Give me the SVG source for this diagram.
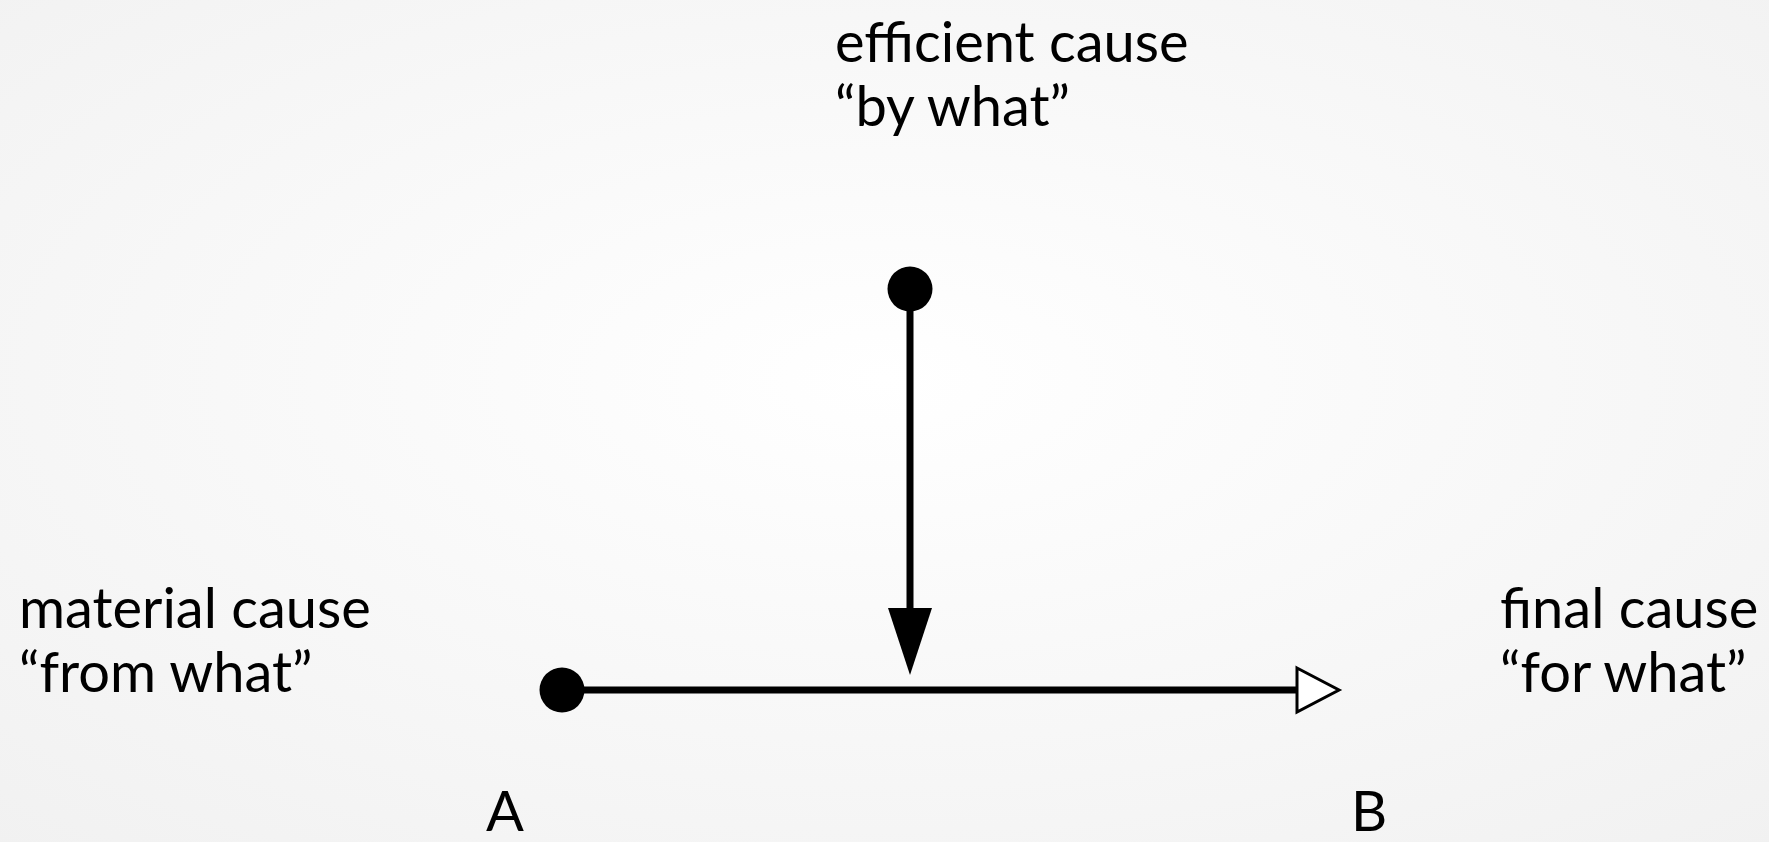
<svg xmlns="http://www.w3.org/2000/svg" width="1769" height="842" viewBox="0 0 1769 842">
  <defs>
    <radialGradient id="bg" cx="0.5" cy="0.45" r="0.75">
      <stop offset="0" stop-color="#ffffff"/>
      <stop offset="1" stop-color="#f1f1f1"/>
    </radialGradient>
    <marker id="filledArrow" markerUnits="userSpaceOnUse" markerWidth="70" markerHeight="46" refX="0" refY="22" orient="auto" overflow="visible">
      <path d="M0,0 L67,22 L0,44 Z" fill="#000"/>
    </marker>
    <marker id="openArrow" markerUnits="userSpaceOnUse" markerWidth="46" markerHeight="48" refX="0" refY="22" orient="auto" overflow="visible">
      <path d="M0,0 L42,22 L0,44 Z" fill="#fff" stroke="#000" stroke-width="3"/>
    </marker>
    <style>
      .lbl { font-family: "Lato", "Liberation Sans", sans-serif; font-size: 56px; fill: #000; }
      .conn { stroke: #000; stroke-width: 7; fill: none; }
      .dot { fill: #000; }
    </style>
  </defs>
  <rect width="1769" height="842" fill="url(#bg)"/>
  <g id="connectors">
    <line class="conn" x1="910" y1="289" x2="910" y2="608" marker-end="url(#filledArrow)"/>
    <line class="conn" x1="562" y1="690" x2="1297" y2="690" marker-end="url(#openArrow)"/>
  </g>
  <g id="efficient">
    <text class="lbl" x="835" y="62">efficient cause</text>
    <text class="lbl" x="835" y="126">“by what”</text>
    <circle class="dot" cx="910" cy="289" r="22.5"/>
  </g>
  <g id="material">
    <text class="lbl" x="19" y="628">material cause</text>
    <text class="lbl" x="19" y="692">“from what”</text>
    <circle class="dot" cx="562" cy="690" r="22.5"/>
  </g>
  <g id="final">
    <text class="lbl" x="1500" y="628">final cause</text>
    <text class="lbl" x="1500" y="692">“for what”</text>
  </g>
  <g id="A">
    <text class="lbl" x="486" y="831">A</text>
  </g>
  <g id="B">
    <text class="lbl" x="1351" y="831">B</text>
  </g>
</svg>
